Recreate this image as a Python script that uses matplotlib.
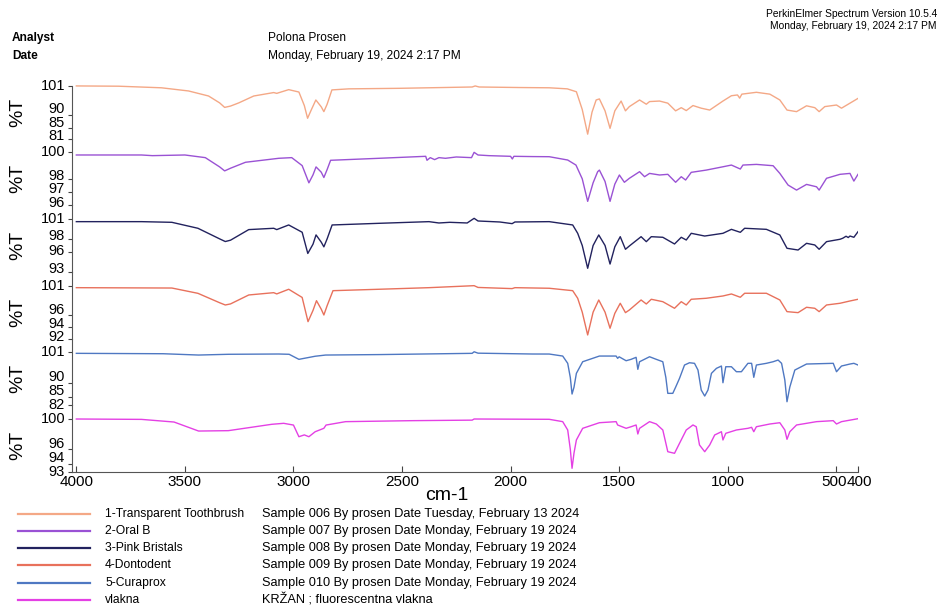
import matplotlib
matplotlib.use("Agg")
import matplotlib.pyplot as plt

plt.rcParams['font.family'] = ['Liberation Sans', 'DejaVu Sans']

# ---- spectra (wavenumber cm-1, %T) ----
wn1 = [4000, 3806, 3608, 3483, 3391, 3340, 3317, 3290, 3252, 3183, 3091, 3077, 3022, 2975, 2950, 2935,
       2920, 2897, 2872, 2860, 2845, 2823, 2745, 2514, 2177, 2163, 2145, 1960, 1822, 1739, 1697, 1670,
       1645, 1625, 1606, 1591, 1565, 1542, 1520, 1491, 1471, 1453, 1406, 1375, 1360, 1314, 1276, 1240,
       1214, 1191, 1160, 1122, 1083, 1022, 983, 955, 945, 935, 868, 806, 760, 727, 683, 637, 599, 579,
       553, 499, 476, 437, 400]
t1 = [100.9, 100.8, 100.2, 99.0, 97.1, 94.5, 92.8, 93.3, 94.5, 97.1, 98.4, 98.1, 99.5, 98.6, 93.5, 88.7,
      91.5, 95.6, 93.0, 91.2, 94.0, 99.4, 99.8, 100.0, 100.5, 100.9, 100.5, 100.3, 100.2, 99.8, 98.7, 92.0,
      82.7, 91.0, 95.6, 96.0, 91.5, 84.9, 91.5, 95.2, 91.5, 93.1, 95.6, 94.0, 95.0, 95.2, 94.4, 91.5,
      92.7, 91.6, 93.5, 92.5, 91.8, 95.2, 97.2, 97.5, 96.3, 97.8, 98.5, 97.8, 95.6, 91.8, 91.2, 93.4, 92.7, 91.2,
      93.1, 93.7, 92.5, 94.4, 96.2]

wn2 = [4000, 3700, 3650, 3500, 3406, 3340, 3317, 3290, 3221, 3068, 3008, 2960, 2929, 2910, 2896, 2872,
       2860, 2845, 2829, 2606, 2391, 2385, 2370, 2350, 2330, 2300, 2250, 2180, 2168, 2150, 2100, 2000,
       1992, 1985, 1900, 1822, 1737, 1699, 1670, 1645, 1620, 1599, 1591, 1565, 1542, 1520, 1499, 1476,
       1453, 1406, 1383, 1360, 1314, 1276, 1240, 1214, 1194, 1168, 1099, 1022, 983, 942, 930, 868,
       791, 760, 722, 683, 637, 591, 579, 545, 483, 437, 419, 400]
t2 = [99.8, 99.8, 99.75, 99.8, 99.6, 98.9, 98.6, 98.8, 99.25, 99.55, 99.6, 99.0, 97.7, 98.3, 98.9, 98.5,
      98.1, 98.7, 99.4, 99.55, 99.7, 99.4, 99.6, 99.45, 99.6, 99.55, 99.65, 99.6, 100.0, 99.8, 99.75, 99.7,
      99.5, 99.7, 99.68, 99.67, 99.42, 99.04, 98.0, 96.3, 97.7, 98.54, 98.66, 97.8, 96.3, 97.6, 98.29, 97.74,
      98.04, 98.54, 98.16, 98.41, 98.29, 98.34, 97.74, 98.16, 97.91, 98.49, 98.66, 98.91, 99.04, 98.74, 99.04, 99.09,
      98.99, 98.41, 97.53, 97.15, 97.58, 97.4, 97.15, 98.04, 98.34, 98.41, 97.83, 98.34]

wn3 = [4000, 3700, 3560, 3440, 3340, 3314, 3290, 3206, 3091, 3077, 3022, 2960, 2934, 2910, 2896, 2872,
       2860, 2845, 2822, 2606, 2376, 2330, 2280, 2200, 2168, 2150, 2050, 1993, 1980, 1822, 1714, 1691,
       1670, 1645, 1620, 1594, 1565, 1542, 1520, 1495, 1471, 1453, 1399, 1375, 1352, 1299, 1245, 1214,
       1191, 1168, 1106, 1022, 983, 942, 922, 822, 760, 727, 676, 637, 599, 579, 545, 483,
       470, 455, 445, 437, 419, 400]
t3 = [100.6, 100.6, 100.5, 99.6, 98.0, 97.6, 97.8, 99.4, 99.6, 99.4, 100.1, 99.0, 95.8, 97.2, 98.6, 97.5,
      96.8, 98.0, 100.1, 100.35, 100.6, 100.4, 100.5, 100.4, 101.1, 100.7, 100.55, 100.3, 100.55, 100.6, 100.1, 98.84,
      97.0, 93.56, 97.0, 98.59, 97.0, 94.2, 96.8, 98.33, 96.43, 96.93, 98.33, 97.58, 98.33, 98.24, 97.23, 98.24,
      97.83, 98.84, 98.43, 98.84, 99.44, 98.99, 99.6, 99.44, 98.59, 96.58, 96.32, 97.33, 97.08, 96.43, 97.58, 97.94,
      98.1, 98.4, 98.2, 98.43, 98.24, 99.08]

wn4 = [4000, 3560, 3440, 3340, 3314, 3290, 3206, 3091, 3077, 3022, 2960, 2933, 2910, 2894, 2872, 2860,
       2845, 2818, 2606, 2376, 2168, 2150, 1993, 1980, 1822, 1714, 1691, 1670, 1645, 1620, 1594, 1565,
       1542, 1520, 1495, 1471, 1453, 1399, 1375, 1352, 1299, 1245, 1214, 1191, 1168, 1099, 1022, 983,
       942, 922, 822, 760, 727, 676, 637, 599, 579, 545, 483, 437, 400]
t4 = [100.66, 100.6, 99.7, 98.1, 97.72, 97.9, 99.42, 99.81, 99.6, 100.39, 99.0, 94.89, 96.8, 98.45, 97.0, 96.02,
      97.6, 100.15, 100.39, 100.66, 101.0, 100.7, 100.5, 100.66, 100.56, 100.15, 98.86, 96.5, 92.63, 96.5, 98.57, 96.5,
      93.77, 96.3, 98.01, 96.42, 96.87, 98.57, 97.89, 98.69, 98.28, 97.16, 98.28, 97.72, 98.69, 98.86, 99.25, 99.59,
      99.03, 99.71, 99.71, 98.57, 96.59, 96.42, 97.33, 97.16, 96.59, 97.72, 98.01, 98.4, 98.69]

wn5 = [4000, 3600, 3437, 3300, 3068, 3020, 2975, 2900, 2852, 2600, 2177, 2168, 2150, 1900, 1822, 1760,
       1737, 1725, 1717, 1708, 1697, 1668, 1591, 1514, 1507, 1500, 1468, 1445, 1422, 1414, 1406, 1360,
       1329, 1299, 1285, 1276, 1253, 1240, 1222, 1199, 1176, 1153, 1137, 1122, 1106, 1091, 1075, 1052,
       1029, 1022, 1009, 983, 960, 937, 907, 890, 880, 868, 822, 791, 768, 752, 737, 727, 714, 691,
       637, 514, 499, 476, 437, 419, 400]
t5 = [100.64, 100.5, 100.03, 100.3, 100.4, 100.3, 98.49, 99.6, 100.03, 100.2, 100.64, 101.2, 100.7, 100.4, 100.39, 99.67,
      97.06, 92.0, 86.05, 88.5, 93.47, 97.63, 99.67, 99.67, 98.85, 99.4, 97.99, 98.49, 99.21, 94.91, 97.63, 99.42,
      98.49, 97.63, 92.0, 86.3, 86.3, 88.5, 91.68, 96.45, 97.27, 97.06, 94.65, 87.48, 85.33, 87.48, 93.47, 95.26,
      96.09, 90.1, 95.84, 95.84, 94.05, 94.05, 97.06, 97.06, 92.04, 96.45, 97.06, 97.63, 98.24, 97.06, 91.07, 83.29, 88.56, 94.65,
      96.81, 97.06, 94.05, 96.09, 96.81, 97.06, 96.45]

wn6 = [4000, 3700, 3550, 3437, 3300, 3100, 3045, 3000, 2975, 2950, 2929, 2900, 2860, 2850, 2760, 2455,
       2177, 2168, 1822, 1760, 1737, 1725, 1717, 1708, 1697, 1668, 1591, 1514, 1507, 1468, 1445, 1422,
       1414, 1406, 1360, 1329, 1299, 1276, 1245, 1222, 1191, 1160, 1145, 1130, 1106, 1083, 1060, 1029,
       1022, 1009, 960, 907, 890, 880, 868, 806, 760, 737, 727, 714, 683, 591, 514, 499,
       476, 400]
t6 = [100.0, 99.95, 99.6, 98.41, 98.46, 99.3, 99.43, 99.2, 97.66, 97.9, 97.66, 98.32, 98.77, 99.2, 99.65, 99.78,
      99.85, 100.0, 99.96, 99.65, 98.55, 96.0, 93.49, 95.5, 97.23, 98.77, 99.51, 99.65, 99.21, 98.77, 98.98, 99.21,
      98.02, 98.77, 99.65, 99.34, 98.55, 95.68, 95.47, 96.79, 98.55, 99.21, 98.98, 96.57, 95.68, 96.57, 97.89, 98.32,
      97.23, 98.11, 98.55, 98.77, 98.9, 98.32, 98.98, 99.34, 99.51, 98.55, 97.32, 98.32, 99.21, 99.65, 99.78, 99.34,
      99.65, 100.04]

names = ["1-Transparent Toothbrush", "2-Oral B", "3-Pink Bristals", "4-Dontodent", "5-Curaprox", "vlakna"]
descs = ["Sample 006 By prosen Date Tuesday, February 13 2024",
         "Sample 007 By prosen Date Monday, February 19 2024",
         "Sample 008 By prosen Date Monday, February 19 2024",
         "Sample 009 By prosen Date Monday, February 19 2024",
         "Sample 010 By prosen Date Monday, February 19 2024",
         "KRŽAN ; fluorescentna vlakna"]
colors = ["#f4a886", "#9a52d4", "#22225e", "#e8715c", "#4f78c2", "#e440e4"]
y_ranges = [(81, 101), (96, 100), (93, 101), (92, 101), (82, 101), (93, 100)]
y_ticks = [[101, 90, 85, 81], [100, 98, 97, 96], [101, 98, 96, 93],
           [101, 96, 94, 92], [101, 90, 85, 82], [100, 96, 94, 93]]
x_ticks = [4000, 3500, 3000, 2500, 2000, 1500, 1000, 500, 400]

spectra = [(wn1, t1), (wn2, t2), (wn3, t3), (wn4, t4), (wn5, t5), (wn6, t6)]

# label nudges (px, upward) so the crowded tick labels sit like the original
label_shift = [[0, 6, 5, 2.5], [0, 3, 3, 2], [0, 3, 1, 3], [0, 5, 3, 1.5], [0, 6, 6, 0], [0, 5, 6.5, 0]]

W, H = 940, 605
fig = plt.figure(figsize=(W / 100, H / 100), dpi=100)

left_px, right_px = 72, 858
top_px, pitch, gap = 72, 400 / 6, 13.67

for k, ((wn, t), col, (lo, hi), ticks) in enumerate(zip(spectra, colors, y_ranges, y_ticks)):
    bottom_px = top_px + pitch * (k + 1)
    ax = fig.add_axes([left_px / W, 1 - bottom_px / H, (right_px - left_px) / W, pitch / H])
    ax.plot(wn, t, color=col, lw=1.0)
    ax.set_xlim(4020, 400)
    ax.set_ylim(lo, hi + (hi - lo) * gap / (pitch - gap))
    ax.set_yticks(ticks)
    ax.set_yticklabels([])
    ax.tick_params(axis='y', direction='out', length=3, color='#444444')
    for v, sh in zip(ticks, label_shift[k]):
        ax.annotate(str(v), xy=(0, v), xycoords=('axes fraction', 'data'),
                    xytext=(-5, sh * 0.72), textcoords='offset points',
                    ha='right', va='center', fontsize=10.5)
    ax.patch.set_alpha(0)
    for s in ['top', 'right']:
        ax.spines[s].set_visible(False)
    ax.spines['left'].set_color('#555555')
    if k == 0:
        ax.spines['left'].set_bounds(lo, hi)
    yc = top_px + pitch * k + gap + (pitch - gap) / 2
    fig.text(18 / W, 1 - yc / H, "%T", rotation=90, fontsize=14, ha='center', va='center')
    if k < 5:
        ax.spines['bottom'].set_visible(False)
        ax.set_xticks([])
    else:
        ax.spines['bottom'].set_color('#555555')
        ax.set_xticks(x_ticks)
        ax.set_xticklabels([])
        ax.tick_params(axis='x', direction='in', length=4, color='#444444')
        for v in x_ticks:
            dx = -2 if v == 500 else (1.5 if v == 400 else 0)
            ax.annotate(str(v), xy=(v, 0), xycoords=('data', 'axes fraction'),
                        xytext=(dx * 0.72, -2.5), textcoords='offset points',
                        ha='center', va='top', fontsize=11)

fig.text(447 / W, 1 - 495 / H, "cm-1", fontsize=14, ha='center', va='center')

# header
fig.text(12 / W, 1 - 38 / H, "Analyst", fontsize=8.6, weight='semibold', va='center')
fig.text(12 / W, 1 - 56 / H, "Date", fontsize=8.6, weight='semibold', va='center')
fig.text(268 / W, 1 - 38 / H, "Polona Prosen", fontsize=8.6, va='center')
fig.text(268 / W, 1 - 56 / H, "Monday, February 19, 2024 2:17 PM", fontsize=8.6, va='center')
fig.text(937 / W, 1 - 14 / H, "PerkinElmer Spectrum Version 10.5.4", fontsize=7.4, ha='right', va='center')
fig.text(937 / W, 1 - 26 / H, "Monday, February 19, 2024 2:17 PM", fontsize=7.4, ha='right', va='center')

# legend block
for i, (nm, ds, col) in enumerate(zip(names, descs, colors)):
    yy = 1 - (513.5 + 17.3 * i) / H
    fig.add_artist(plt.Line2D([18 / W, 90 / W], [yy, yy], color=col, lw=1.6))
    fig.text(105 / W, yy, nm, fontsize=8.7, va='center')
    fig.text(262 / W, yy, ds, fontsize=9.2, va='center')

fig.savefig("out.png", dpi=100)
